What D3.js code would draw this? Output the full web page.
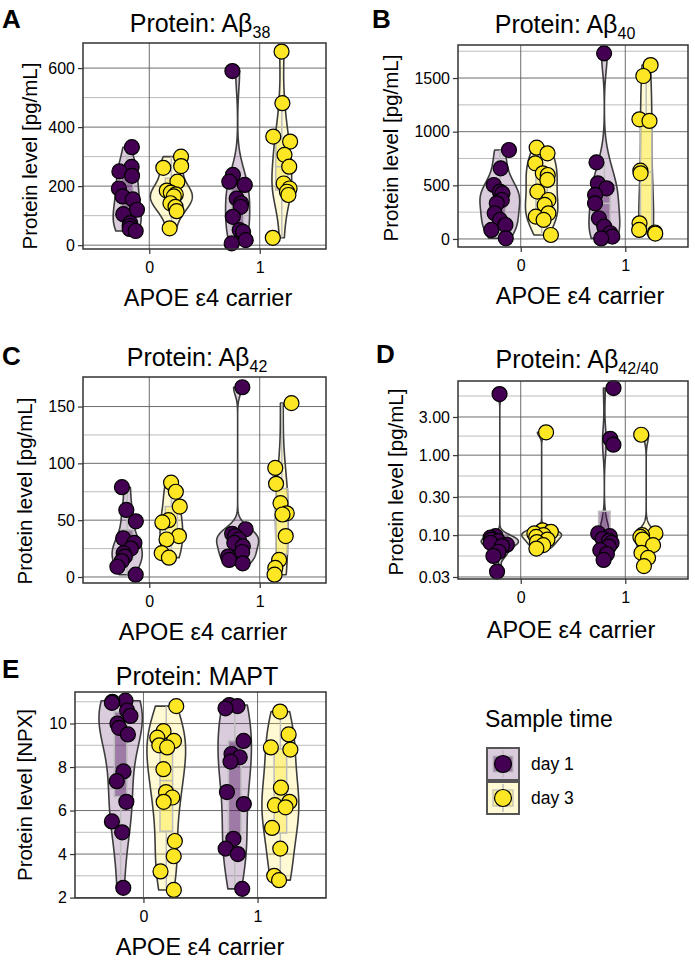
<!DOCTYPE html>
<html>
<head>
<meta charset="utf-8">
<script src="https://cdn.jsdelivr.net/npm/d3@7"></script>
<style>
  body { margin: 0; background: #fff; }
  text { font-family: "Liberation Sans", Arial, Helvetica, sans-serif; fill: #000; }
</style>
</head>
<body>
<svg id="fig" width="695" height="962"></svg>
<script>
// categories
const carriers = [0, 1];
const sampleTimes = ["day 1", "day 3"];
const timeColors = ["#440154", "#FDE725"];

// Abeta38 [pg/mL]
const ab38Day1C0 = [332, 265, 250, 235, 192, 165, 155, 120, 105, 75, 65, 55, 48];
const ab38Day3C0 = [300, 268, 262, 215, 185, 178, 172, 165, 142, 130, 115, 57];
const ab38Day1C1 = [590, 238, 215, 204, 158, 142, 130, 96, 51, 45, 17, 6];
const ab38Day3C1 = [656, 481, 368, 351, 306, 266, 209, 192, 181, 170, 25];
const ab38Ticks = [0, 200, 400, 600];
const ab38Minor = [100, 300, 500];

// Abeta40 [pg/mL]
const ab40Day1C0 = [829, 658, 503, 441, 425, 363, 332, 239, 177, 130, 84, 6];
const ab40Day3C0 = [851, 798, 705, 612, 596, 550, 441, 363, 317, 239, 208, 177, 37];
const ab40Day1C1 = [1730, 714, 519, 472, 410, 332, 193, 115, 53, 22, 5];
const ab40Day3C1 = [1621, 1519, 1115, 1100, 637, 612, 146, 84, 60, 50];
const ab40Ticks = [0, 500, 1000, 1500];
const ab40Minor = [250, 750, 1250, 1750];

// Abeta42 [pg/mL]
const ab42Day1C0 = [79, 59, 49, 34, 30, 25, 21, 18, 14, 9, 2];
const ab42Day3C0 = [83, 75, 62, 50, 48, 36, 33, 21, 17];
const ab42Day1C1 = [167, 42, 38, 36, 33, 30, 27, 22, 18, 15, 12];
const ab42Day3C1 = [153, 96, 82, 65, 56, 55, 36, 15, 8, 2];
const ab42Ticks = [0, 50, 100, 150];
const ab42Minor = [25, 75, 125];

// Abeta42/40 ratio (log scale)
const ratioDay1C0 = [5.8, 0.097, 0.093, 0.088, 0.084, 0.080, 0.076, 0.073, 0.062, 0.055, 0.035];
const ratioDay3C0 = [1.93, 0.115, 0.11, 0.105, 0.1, 0.095, 0.088, 0.082, 0.075, 0.068];
const ratioDay1C1 = [6.9, 1.6, 1.35, 0.105, 0.097, 0.09, 0.085, 0.08, 0.072, 0.065, 0.058, 0.049];
const ratioDay3C1 = [1.8, 0.105, 0.1, 0.095, 0.088, 0.075, 0.06, 0.052, 0.041];
const ratioTicks = [0.03, 0.1, 0.3, 1, 3];
const ratioMinor = [0.0548, 0.173, 0.548, 1.73, 5.48];

// MAPT [NPX]
const maptDay1C0 = [11.05, 11.0, 10.95, 10.6, 10.35, 10.0, 9.8, 9.5, 7.8, 7.35, 6.4, 5.5, 5.0, 2.45];
const maptDay3C0 = [10.8, 9.65, 9.35, 9.2, 9.0, 8.9, 7.9, 6.85, 6.6, 6.4, 4.6, 3.9, 3.2, 2.35];
const maptDay1C1 = [10.85, 10.8, 10.7, 9.2, 8.6, 8.45, 8.25, 6.85, 6.3, 4.7, 4.25, 4.0, 2.4];
const maptDay3C1 = [10.55, 9.5, 8.9, 8.8, 7.05, 6.4, 6.25, 6.15, 5.2, 4.25, 3.0, 2.8];
const maptTicks = [2, 4, 6, 8, 10];
const maptMinor = [3, 5, 7, 9, 11];

// panel layout (pixel frames) + data wiring
const panels = [
  { letter: "A", lx: 2, ly: 28, title: "Protein: Aβ", sub: "38", tx: 200, ty: 32,
    ylab: "Protein level [pg/mL]", ylx: 37, yly: 156, xtx: 208, xty: 306,
    x0: 83, x1: 326, y0: 43, y1: 249, domain: [-13, 685], log: false,
    ticks: ab38Ticks, minor: ab38Minor, fmt: d3.format("d"),
    data: [[ab38Day1C0, ab38Day3C0], [ab38Day1C1, ab38Day3C1]] },
  { letter: "B", lx: 372, ly: 28, title: "Protein: Aβ", sub: "40", tx: 565, ty: 33,
    ylab: "Protein level [pg/mL]", ylx: 398, yly: 148, xtx: 580, xty: 304,
    x0: 458, x1: 688, y0: 45, y1: 247, domain: [-75, 1808], log: false,
    ticks: ab40Ticks, minor: ab40Minor, fmt: d3.format("d"),
    data: [[ab40Day1C0, ab40Day3C0], [ab40Day1C1, ab40Day3C1]] },
  { letter: "C", lx: 2, ly: 365, title: "Protein: Aβ", sub: "42", tx: 197, ty: 366,
    ylab: "Protein level [pg/mL]", ylx: 32, yly: 491, xtx: 203, xty: 640,
    x0: 83, x1: 326, y0: 377, y1: 583, domain: [-5.3, 176], log: false,
    ticks: ab42Ticks, minor: ab42Minor, fmt: d3.format("d"),
    data: [[ab42Day1C0, ab42Day3C0], [ab42Day1C1, ab42Day3C1]] },
  { letter: "D", lx: 376, ly: 363, title: "Protein: Aβ", sub: "42/40", tx: 577, ty: 368,
    ylab: "Protein level [pg/mL]", ylx: 403, yly: 482, xtx: 571, xty: 638,
    x0: 458, x1: 688, y0: 381, y1: 579, domain: [0.0283, 8.45], log: true,
    ticks: ratioTicks, minor: ratioMinor, fmt: d3.format(".2f"),
    data: [[ratioDay1C0, ratioDay3C0], [ratioDay1C1, ratioDay3C1]] },
  { letter: "E", lx: 2, ly: 678, title: "Protein: MAPT", sub: "", tx: 197, ty: 685,
    ylab: "Protein level [NPX]", ylx: 32, yly: 795, xtx: 200, xty: 955,
    x0: 75, x1: 326, y0: 692, y1: 898, domain: [1.98, 11.45], log: false,
    ticks: maptTicks, minor: maptMinor, fmt: d3.format("d"),
    data: [[maptDay1C0, maptDay3C0], [maptDay1C1, maptDay3C1]] }
];

const svg = d3.select("#fig");
const dodge = 0.2, jitterW = 0.09, boxW = 0.11, violinHalf = 0.19;

function nrd0(a) {
  const sd = d3.deviation(a);
  const iqr = d3.quantile(a, 0.75) - d3.quantile(a, 0.25);
  let lo = Math.min(sd, iqr / 1.34);
  if (!(lo > 0)) lo = sd || 1;
  return 0.9 * lo * Math.pow(a.length, -0.2);
}

// gaussian kde, trimmed to data range
function kde(vals) {
  const bw = nrd0(vals);
  const [lo, hi] = d3.extent(vals);
  const n = 200;
  return d3.range(n + 1).map(i => {
    const t = lo + (hi - lo) * i / n;
    const dens = d3.mean(vals, v => Math.exp(-0.5 * ((t - v) / bw) ** 2)) / (bw * Math.sqrt(2 * Math.PI));
    return [t, dens];
  });
}

function boxStats(t) {
  const s = t.slice().sort(d3.ascending);
  const q1 = d3.quantileSorted(s, 0.25), med = d3.quantileSorted(s, 0.5), q3 = d3.quantileSorted(s, 0.75);
  const iqr = q3 - q1;
  return { q1, med, q3,
    lo: d3.min(s.filter(v => v >= q1 - 1.5 * iqr)),
    hi: d3.max(s.filter(v => v <= q3 + 1.5 * iqr)) };
}

panels.forEach((p, pi) => {
  const g = svg.append("g");
  const x = d3.scaleLinear().domain([-0.6, 1.6]).range([p.x0, p.x1]);
  const y = (p.log ? d3.scaleLog() : d3.scaleLinear()).domain(p.domain).range([p.y1, p.y0]);
  const tf = p.log ? Math.log10 : (v => v);
  const yT = t => y(p.log ? Math.pow(10, t) : t);

  // grid
  g.selectAll(".minor").data(p.minor.filter(v => y(v) >= p.y0 && y(v) <= p.y1)).join("line")
    .attr("x1", p.x0).attr("x2", p.x1).attr("y1", d => y(d)).attr("y2", d => y(d))
    .attr("stroke", "#b4b4b4").attr("stroke-width", 0.9);
  g.selectAll(".major").data(p.ticks).join("line")
    .attr("x1", p.x0).attr("x2", p.x1).attr("y1", d => y(d)).attr("y2", d => y(d))
    .attr("stroke", "#5c5c5c").attr("stroke-width", 0.9);
  g.selectAll(".vgrid").data(carriers).join("line")
    .attr("x1", d => x(d)).attr("x2", d => x(d)).attr("y1", p.y0).attr("y2", p.y1)
    .attr("stroke", "#5c5c5c").attr("stroke-width", 0.9);

  // series
  const series = [];
  carriers.forEach((c, ci) => sampleTimes.forEach((st, ti) => {
    const t = p.data[ci][ti].map(tf);
    series.push({ c, ti, t, center: c + (ti === 0 ? -dodge : dodge), dens: kde(t), box: boxStats(t) });
  }));
  const maxD = d3.max(series, s => d3.max(s.dens, d => d[1]));

  // violins
  series.forEach(s => {
    const area = d3.area()
      .y(d => yT(d[0]))
      .x0(d => x(s.center - d[1] / maxD * violinHalf))
      .x1(d => x(s.center + d[1] / maxD * violinHalf));
    g.append("path").datum(s.dens).attr("d", area)
      .attr("fill", timeColors[s.ti]).attr("fill-opacity", 0.2)
      .attr("stroke", "#3d3d3d").attr("stroke-width", 1.6).attr("stroke-linejoin", "round");
  });

  // boxplots
  series.forEach(s => {
    const b = s.box;
    const bg = g.append("g").attr("stroke", "#bdbdbd").attr("stroke-width", 1.5);
    bg.append("line").attr("x1", x(s.center)).attr("x2", x(s.center)).attr("y1", yT(b.hi)).attr("y2", yT(b.q3));
    bg.append("line").attr("x1", x(s.center)).attr("x2", x(s.center)).attr("y1", yT(b.q1)).attr("y2", yT(b.lo));
    bg.append("rect").attr("x", x(s.center - boxW / 2)).attr("width", x(boxW) - x(0))
      .attr("y", yT(b.q3)).attr("height", Math.max(0, yT(b.q1) - yT(b.q3)))
      .attr("fill", timeColors[s.ti]).attr("fill-opacity", 0.4);
    bg.append("line").attr("x1", x(s.center - boxW / 2)).attr("x2", x(s.center + boxW / 2))
      .attr("y1", yT(b.med)).attr("y2", yT(b.med));
  });

  // points with seeded jitter
  series.forEach((s, si) => {
    const jit = d3.randomUniform.source(d3.randomLcg(0.1 + pi * 0.17 + si * 0.05))(-jitterW, jitterW);
    g.append("g").selectAll("circle").data(s.t).join("circle")
      .attr("cx", () => x(s.center + jit()))
      .attr("cy", d => yT(d))
      .attr("r", 7.5)
      .attr("fill", timeColors[s.ti]).attr("stroke", "#000").attr("stroke-width", 1.2);
  });

  // panel border
  g.append("rect").attr("x", p.x0).attr("y", p.y0).attr("width", p.x1 - p.x0).attr("height", p.y1 - p.y0)
    .attr("fill", "none").attr("stroke", "#333").attr("stroke-width", 1.5);

  // axes
  const ya = g.append("g").attr("transform", `translate(${p.x0},0)`)
    .call(d3.axisLeft(y).tickValues(p.ticks).tickFormat(p.fmt).tickSize(5).tickPadding(3));
  const xa = g.append("g").attr("transform", `translate(0,${p.y1})`)
    .call(d3.axisBottom(x).tickValues(carriers).tickFormat(d3.format("d")).tickSize(5).tickPadding(8));
  [ya, xa].forEach(a => {
    a.select(".domain").remove();
    a.selectAll("line").attr("stroke", "#333").attr("stroke-width", 1.2);
    a.selectAll("text").attr("font-size", 16).attr("fill", "#111")
      .style("font-family", '"Liberation Sans", Arial, sans-serif');
  });

  // labels
  svg.append("text").attr("x", p.lx).attr("y", p.ly).attr("font-size", 26).attr("font-weight", "bold").text(p.letter);
  const tt = svg.append("text").attr("x", p.tx).attr("y", p.ty).attr("text-anchor", "middle").attr("font-size", 25).text(p.title);
  if (p.sub) tt.append("tspan").attr("dy", 6).attr("font-size", 16).text(p.sub);
  svg.append("text").attr("transform", `translate(${p.ylx},${p.yly}) rotate(-90)`)
    .attr("text-anchor", "middle").attr("font-size", 20.5).text(p.ylab);
  svg.append("text").attr("x", p.xtx).attr("y", p.xty).attr("text-anchor", "middle").attr("font-size", 23.5)
    .text("APOE ε4 carrier");
});

// legend
const lg = svg.append("g");
lg.append("text").attr("x", 485).attr("y", 727).attr("font-size", 23).text("Sample time");
sampleTimes.forEach((st, i) => {
  const ky = 748 + i * 34, kx = 487, ks = 32;
  lg.append("rect").attr("x", kx).attr("y", ky).attr("width", ks).attr("height", ks)
    .attr("fill", timeColors[i]).attr("fill-opacity", 0.2).attr("stroke", "#555").attr("stroke-width", 2);
  lg.append("line").attr("x1", kx + ks / 2).attr("x2", kx + ks / 2).attr("y1", ky + 2).attr("y2", ky + ks - 2)
    .attr("stroke", "#bdbdbd").attr("stroke-width", 1.5);
  lg.append("rect").attr("x", kx + 6).attr("y", ky + 8).attr("width", ks - 12).attr("height", ks - 16)
    .attr("fill", timeColors[i]).attr("fill-opacity", 0.4).attr("stroke", "#bdbdbd").attr("stroke-width", 1.2);
  lg.append("circle").attr("cx", kx + ks / 2).attr("cy", ky + ks / 2).attr("r", 8.5)
    .attr("fill", timeColors[i]).attr("stroke", "#000").attr("stroke-width", 1.2);
  lg.append("text").attr("x", 531).attr("y", ky + ks / 2 + 6).attr("font-size", 17.5).text(st);
});
</script>
</body>
</html>
